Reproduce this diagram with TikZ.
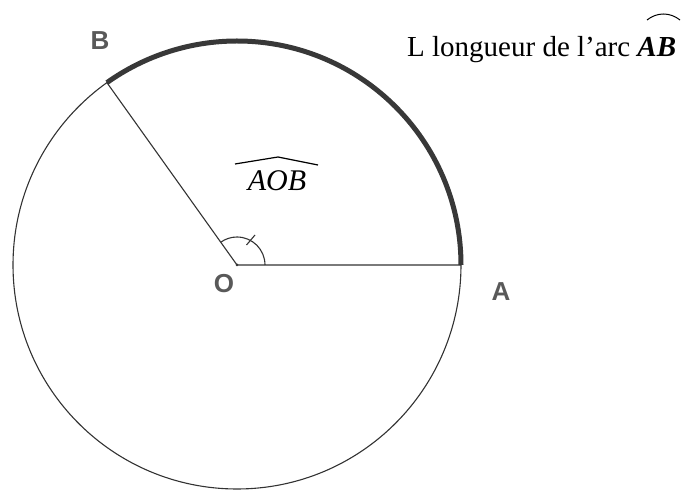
\documentclass[tikz,border=0pt]{standalone}
\usepackage{fontspec}
\setmainfont{Liberation Serif}
\newfontfamily\lblfont{Liberation Sans}
\usetikzlibrary{calc}
\begin{document}
\begin{tikzpicture}[x=1pt,y=1pt,
  thin line/.style={draw=black!80,line width=1.1pt},
  heavy/.style={draw=black!78,line width=5pt},
  ptlabel/.style={font=\lblfont\bfseries\fontsize{26}{28}\selectfont,text=black!65,inner sep=0pt}]
\useasboundingbox (0,0) rectangle (681,490);
\coordinate (O) at (237,225);
\coordinate (A) at ($(O)+(0:224)$);
\coordinate (B) at ($(O)+(125.5:224)$);
% circle
\draw[thin line] (O) circle[radius=224];
% heavy arc
\draw[heavy] (A) arc[start angle=0,end angle=125.5,radius=224];
% radii
\draw[thin line] (B) -- (O) -- (A);
\fill[black!80] (O) circle[radius=1.5];
% angle mark
\draw[thin line] ($(O)+(0:28)$) arc[start angle=0,end angle=125.5,radius=28];
\coordinate (t1) at (246.5,245);
\coordinate (t2) at (255,255);
\draw[thin line] (t1) -- (t2);
% labels
\node[ptlabel] (lB) at (100,449) {B};
\node[ptlabel] (lO) at (224,206) {O};
\node[ptlabel] (lA) at (501,198) {A};
% angle label
\node[font=\itshape\fontsize{30}{32}\selectfont,inner sep=0pt] (aob) at (277,309) {AOB};
\coordinate (h1) at (235,326);
\coordinate (h2) at (278,333);
\coordinate (h3) at (318,325);
\draw[line width=1.2pt] (h1) -- (h2) -- (h3);
% title
\node[anchor=base west,inner sep=0pt,font=\fontsize{29}{31}\selectfont] (title) at (407,433) {L longueur de l'arc \textbf{\textit{AB}}};
\coordinate (c1) at (647,470);
\coordinate (c2) at (680,470);
\draw[line width=1pt] (c1) .. controls (657,478) and (670,478) .. (c2);
\end{tikzpicture}
\end{document}
